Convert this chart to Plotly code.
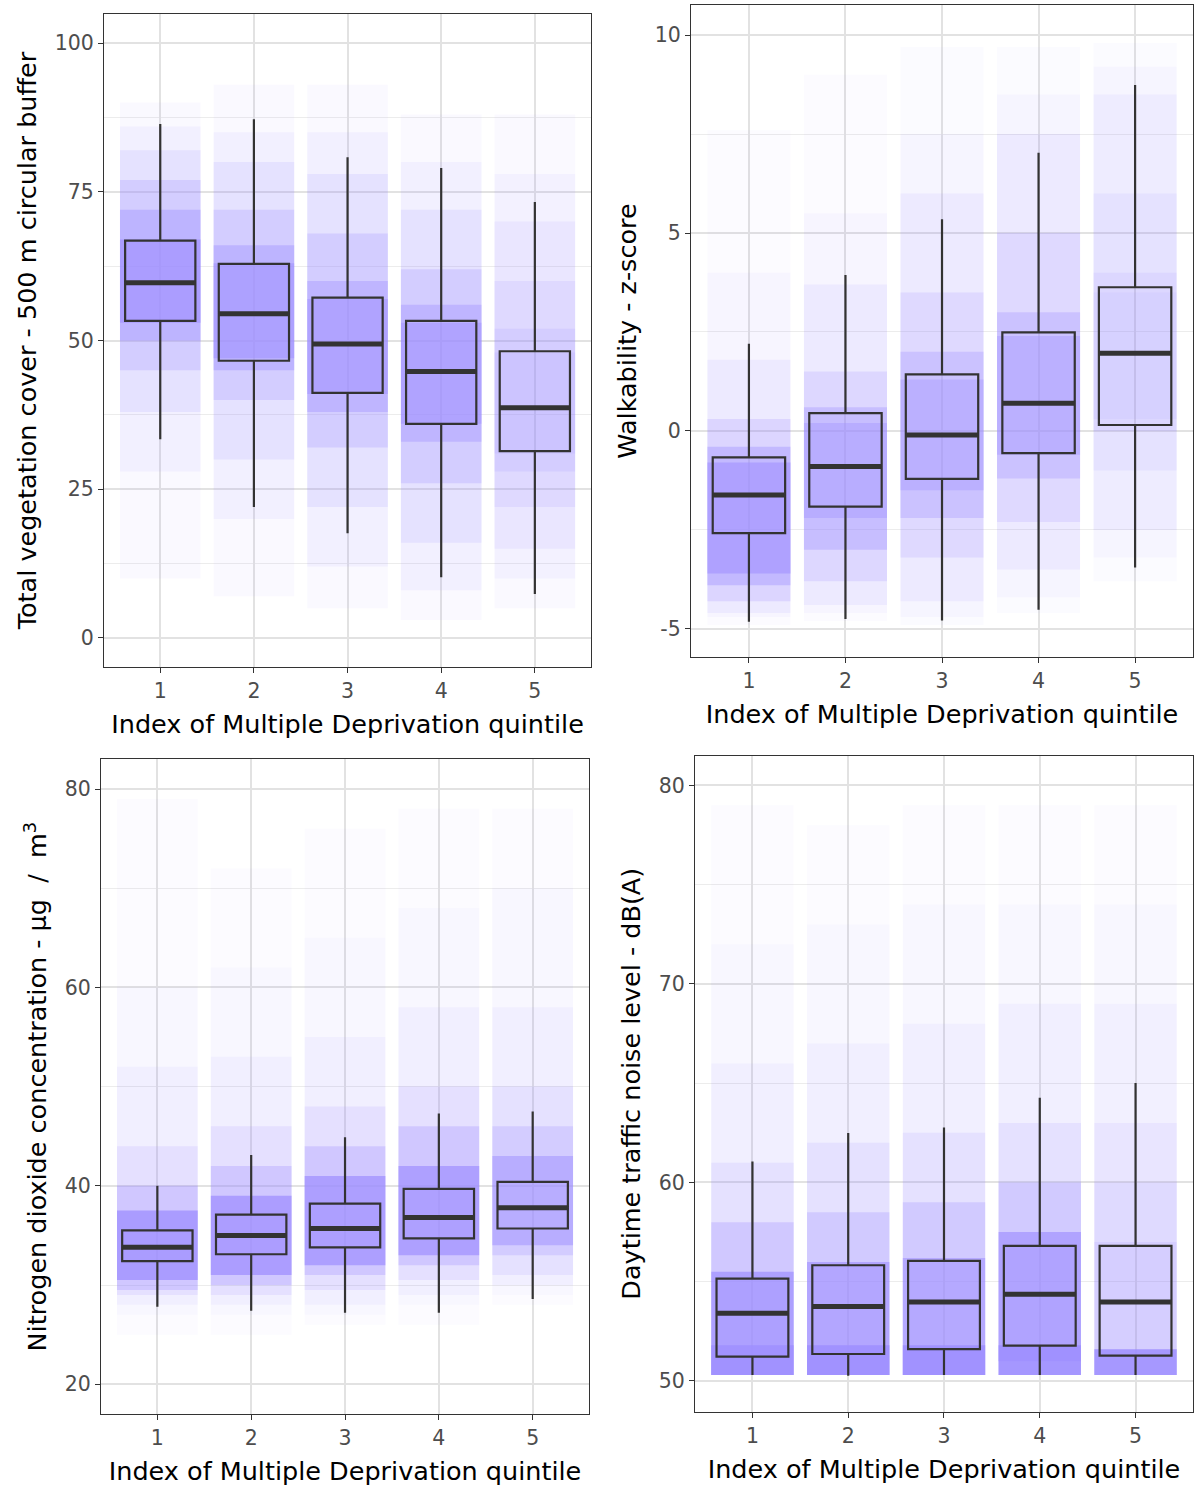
import plotly.graph_objects as go

quintiles = [1, 2, 3, 4, 5]

# ---- box statistics ----
veg_q1 = [53.3, 46.6, 41.2, 36.0, 31.4]
veg_med = [59.7, 54.5, 49.4, 44.8, 38.7]
veg_q3 = [66.8, 62.9, 57.2, 53.3, 48.2]
veg_lo = [33.4, 22.0, 17.6, 10.2, 7.4]
veg_hi = [86.4, 87.2, 80.8, 79.0, 73.3]

walk_q1 = [-2.58, -1.91, -1.21, -0.56, 0.15]
walk_med = [-1.62, -0.90, -0.10, 0.70, 1.96]
walk_q3 = [-0.67, 0.45, 1.43, 2.49, 3.63]
walk_lo = [-4.82, -4.75, -4.79, -4.52, -3.45]
walk_hi = [2.20, 3.94, 5.35, 7.03, 8.74]

no2_q1 = [32.4, 33.1, 33.8, 34.7, 35.7]
no2_med = [33.8, 35.0, 35.7, 36.8, 37.8]
no2_q3 = [35.5, 37.1, 38.2, 39.7, 40.4]
no2_lo = [27.8, 27.4, 27.2, 27.2, 28.6]
no2_hi = [40.0, 43.1, 44.9, 47.3, 47.5]

noise_q1 = [51.23, 51.36, 51.60, 51.78, 51.28]
noise_med = [53.41, 53.75, 53.98, 54.37, 53.98]
noise_q3 = [55.16, 55.83, 56.05, 56.81, 56.81]
noise_lo = [50.30, 50.27, 50.30, 50.30, 50.30]
noise_hi = [61.06, 62.49, 62.77, 64.27, 65.01]

# ---- tick values ----
veg_ticks = [0, 25, 50, 75, 100]
walk_ticks = [-5, 0, 5, 10]
no2_ticks = [20, 40, 60, 80]
noise_ticks = [50, 60, 70, 80]

# ---- approximate density of the jittered point clouds (lo, hi, opacity) per quintile ----
veg_bands = [
    [(10, 90, 0.05), (28, 86, 0.08), (38, 82, 0.14), (45, 77, 0.25), (50, 72, 0.40), (53, 67, 0.60)],
    [(7, 93, 0.05), (20, 85, 0.08), (30, 80, 0.14), (40, 72, 0.25), (45, 66, 0.40), (47, 63, 0.50)],
    [(5, 93, 0.05), (12, 85, 0.08), (22, 78, 0.14), (32, 68, 0.25), (38, 60, 0.38), (41, 57, 0.45)],
    [(3, 88, 0.05), (8, 80, 0.08), (16, 72, 0.14), (26, 62, 0.25), (33, 56, 0.38), (36, 53, 0.45)],
    [(5, 88, 0.05), (10, 78, 0.07), (15, 70, 0.10), (22, 60, 0.14), (28, 52, 0.16), (31, 48, 0.14)],
]
walk_bands = [
    [(-4.9, 7.6, 0.03), (-4.7, 4.0, 0.05), (-4.6, 1.8, 0.10), (-4.3, 0.3, 0.22), (-3.9, -0.4, 0.40), (-3.6, -0.8, 0.55)],
    [(-4.8, 9.0, 0.03), (-4.6, 5.5, 0.05), (-4.4, 3.7, 0.10), (-3.8, 1.5, 0.20), (-3.0, 0.6, 0.35), (-2.2, 0.2, 0.35)],
    [(-4.9, 9.7, 0.04), (-4.7, 7.5, 0.05), (-4.3, 6.0, 0.10), (-3.2, 3.5, 0.18), (-2.2, 2.0, 0.30), (-1.5, 1.3, 0.35)],
    [(-4.6, 9.7, 0.04), (-4.2, 8.5, 0.05), (-3.5, 7.5, 0.10), (-2.3, 5.0, 0.18), (-1.2, 3.0, 0.30), (-0.6, 2.4, 0.35)],
    [(-3.8, 9.8, 0.04), (-3.2, 9.2, 0.05), (-2.5, 8.5, 0.08), (-1.0, 6.0, 0.10), (0.0, 4.0, 0.12), (0.3, 3.5, 0.08)],
]
no2_bands = [
    [(25, 79, 0.03), (27, 60, 0.04), (28, 52, 0.07), (29, 44, 0.15), (29.5, 40, 0.30), (30.5, 37.5, 0.75)],
    [(25, 72, 0.03), (27, 62, 0.04), (28, 53, 0.07), (29, 46, 0.15), (30, 42, 0.30), (31, 39, 0.72)],
    [(26, 76, 0.03), (27, 65, 0.04), (28, 55, 0.07), (29.5, 48, 0.15), (31, 44, 0.30), (32, 41, 0.70)],
    [(26, 78, 0.03), (28, 68, 0.04), (29, 58, 0.07), (30.5, 50, 0.15), (32, 46, 0.30), (33, 42, 0.68)],
    [(28, 78, 0.03), (29, 70, 0.04), (30, 58, 0.07), (31, 50, 0.14), (33, 46, 0.25), (34, 43, 0.50)],
]
noise_bands = [
    [(50.3, 79, 0.03), (50.3, 72, 0.04), (50.3, 66, 0.07), (50.3, 61, 0.14), (50.3, 58, 0.30), (50.3, 55.5, 0.70), (50.3, 51.8, 0.80)],
    [(50.3, 78, 0.03), (50.3, 73, 0.04), (50.3, 67, 0.07), (50.3, 62, 0.14), (50.3, 58.5, 0.28), (50.3, 56.0, 0.60), (50.3, 51.8, 0.85)],
    [(50.3, 79, 0.03), (50.3, 74, 0.04), (50.3, 68, 0.07), (50.3, 62.5, 0.14), (50.3, 59.0, 0.28), (50.3, 56.2, 0.55), (50.3, 51.8, 0.85)],
    [(50.3, 79, 0.03), (50.3, 74, 0.04), (50.3, 69, 0.07), (50.3, 63, 0.14), (50.3, 60.0, 0.28), (51.0, 57.5, 0.65), (50.3, 51.8, 0.85)],
    [(50.3, 79, 0.03), (50.3, 74, 0.04), (50.3, 69, 0.06), (50.3, 63, 0.10), (50.3, 60.0, 0.12), (50.3, 57.0, 0.15), (50.3, 51.6, 0.85)],
]

y_titles = [
    "Total vegetation cover - 500 m circular buffer",
    "Walkability - z-score",
    "Nitrogen dioxide concentration - µg  /  m<sup>3</sup>",
    "Daytime traffic noise level - dB(A)",
]
x_title = "Index of Multiple Deprivation quintile"

panels = [
    dict(q1=veg_q1, med=veg_med, q3=veg_q3, lo=veg_lo, hi=veg_hi, bands=veg_bands,
         ticks=veg_ticks, yrange=[-4.9, 104.9],
         xdom=[0.0865, 0.4913], ydom=[0.5514, 0.9906]),
    dict(q1=walk_q1, med=walk_med, q3=walk_q3, lo=walk_lo, hi=walk_hi, bands=walk_bands,
         ticks=walk_ticks, yrange=[-5.71, 10.76],
         xdom=[0.5744, 0.9917], ydom=[0.5582, 0.9966]),
    dict(q1=no2_q1, med=no2_med, q3=no2_q3, lo=no2_lo, hi=no2_hi, bands=no2_bands,
         ticks=no2_ticks, yrange=[17.0, 83.0],
         xdom=[0.0840, 0.4896], ydom=[0.0491, 0.4894]),
    dict(q1=noise_q1, med=noise_med, q3=noise_q3, lo=noise_lo, hi=noise_hi, bands=noise_bands,
         ticks=noise_ticks, yrange=[48.45, 81.5],
         xdom=[0.5777, 0.9917], ydom=[0.0506, 0.4918]),
]

POINT_RGB = "158,142,255"
BOX_W = 0.75
CLOUD_W = 0.86
DARK = "#333333"
FONT = "DejaVu Sans, Verdana, sans-serif"

fig = go.Figure()
layout = {}

for i, p in enumerate(panels):
    sfx = "" if i == 0 else str(i + 1)
    xa, ya = "x" + sfx, "y" + sfx
    nb = max(len(b) for b in p["bands"])
    for k in range(nb):
        xs, bases, lens, cols = [], [], [], []
        for qi, q in enumerate(quintiles):
            if k < len(p["bands"][qi]):
                lo, hi, a = p["bands"][qi][k]
                xs.append(q)
                bases.append(lo)
                lens.append(hi - lo)
                cols.append(f"rgba({POINT_RGB},{a})")
        fig.add_trace(go.Bar(x=xs, y=lens, base=bases, width=CLOUD_W,
                             marker=dict(color=cols, line=dict(width=0)),
                             xaxis=xa, yaxis=ya, showlegend=False, hoverinfo="skip"))
    fig.add_trace(go.Box(x=quintiles, q1=p["q1"], median=p["med"], q3=p["q3"],
                         lowerfence=p["lo"], upperfence=p["hi"], width=BOX_W,
                         whiskerwidth=0,
                         fillcolor="rgba(0,0,0,0)", line=dict(color=DARK, width=2.2),
                         boxpoints=False, xaxis=xa, yaxis=ya, showlegend=False))
    mx, my = [], []
    for q, m in zip(quintiles, p["med"]):
        mx += [q - BOX_W / 2, q + BOX_W / 2, None]
        my += [m, m, None]
    fig.add_trace(go.Scatter(x=mx, y=my, mode="lines", line=dict(color=DARK, width=5),
                             xaxis=xa, yaxis=ya, showlegend=False, hoverinfo="skip"))

    t = p["ticks"]
    minor_vals = [(a + b) / 2 for a, b in zip(t[:-1], t[1:])]
    common = dict(showline=True, linecolor=DARK, linewidth=1.3, mirror=True,
                  ticks="outside", ticklen=5, tickwidth=1.3, tickcolor=DARK,
                  tickfont=dict(family=FONT, size=20.5, color="#4d4d4d"),
                  gridcolor="#e2e2e2", gridwidth=1.5, zeroline=False)
    layout["xaxis" + sfx] = dict(common, domain=p["xdom"], anchor=ya, range=[0.4, 5.6],
                                 tickmode="array", tickvals=quintiles,
                                 ticktext=[str(q) for q in quintiles],
                                 title=dict(text=x_title, standoff=13,
                                            font=dict(family=FONT, size=25.5, color="black")))
    layout["yaxis" + sfx] = dict(common, domain=p["ydom"], anchor=xa, range=p["yrange"],
                                 tickmode="array", tickvals=t, ticktext=[str(v) for v in t],
                                 minor=dict(tickmode="array", tickvals=minor_vals, showgrid=True,
                                            gridcolor="#ececec", gridwidth=1),
                                 title=dict(text=y_titles[i], standoff=10,
                                            font=dict(family=FONT, size=25.5, color="black")))

fig.update_layout(**layout)
fig.update_layout(width=1203, height=1487, margin=dict(l=0, r=0, t=0, b=0),
                  paper_bgcolor="white", plot_bgcolor="white",
                  barmode="overlay", boxmode="overlay", showlegend=False,
                  font=dict(family=FONT))
fig.write_html("out.html")
